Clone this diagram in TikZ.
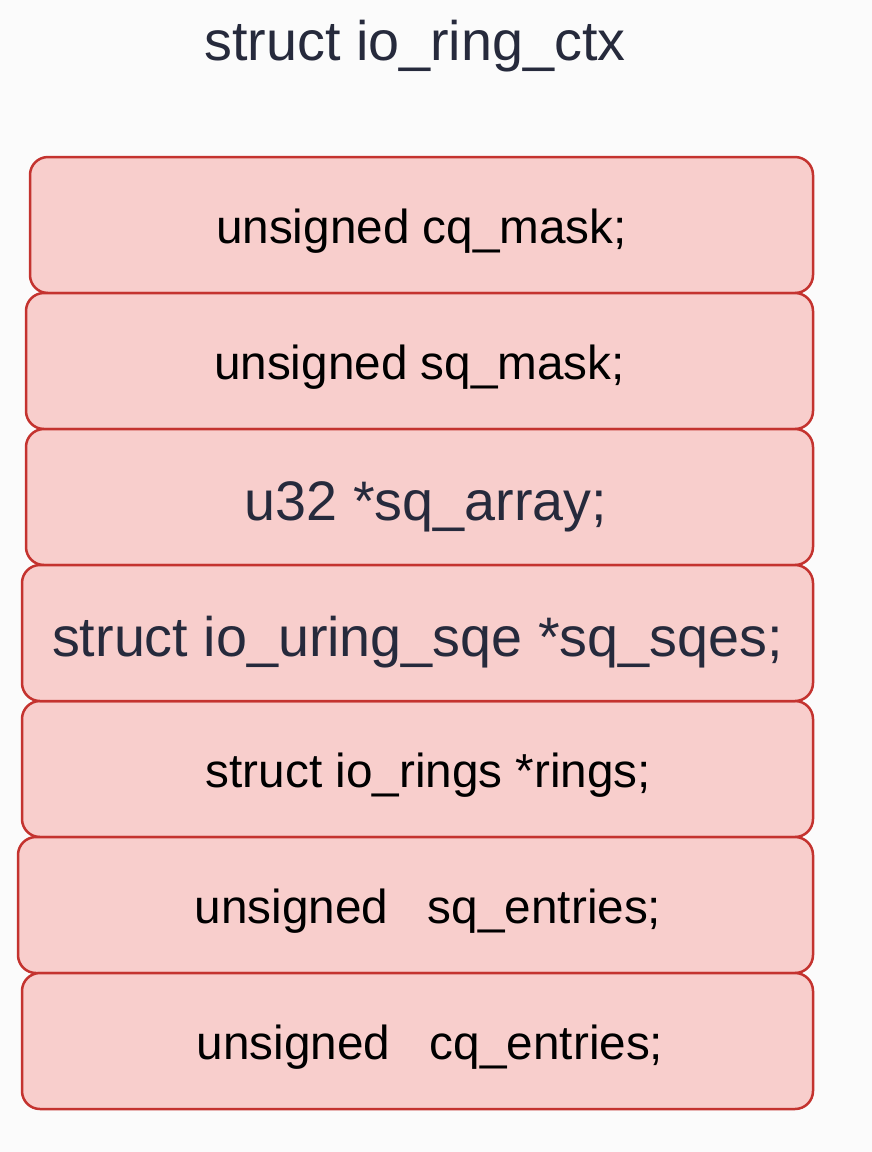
\documentclass[tikz,border=0pt]{standalone}
\usepackage{fontspec}
\setmainfont{Liberation Sans}
\usetikzlibrary{positioning}
\definecolor{pagebg}{HTML}{FBFBFB}
\definecolor{boxfill}{HTML}{F8CECC}
\definecolor{boxline}{HTML}{C4332F}
\definecolor{navytext}{HTML}{262A3C}
\tikzstyle{field}=[draw=boxline,fill=boxfill,line width=1.25pt,rounded corners=9pt,minimum height=68pt,inner sep=0pt,text depth=0pt]
\tikzstyle{small field}=[field,font=\fontsize{23.85}{28}\selectfont,text=black,text height=18pt]
\tikzstyle{big field}=[field,font=\fontsize{27.85}{33}\selectfont,text=navytext,text height=23pt]
\tikzstyle{title}=[font=\fontsize{27.85}{33}\selectfont,text=navytext,text height=23pt,text depth=0pt,inner sep=0pt]

\begin{document}
\begin{tikzpicture}[x=0.5pt,y=-0.5pt]
    \fill[pagebg] (0,0) rectangle (872,1152);
    % struct name on top
    \node[title] (ctx) at (415,37) {struct io\_ring\_ctx};
    % First the plain fields
    \foreach \x/\y/\boxw/\name/\txt in {421.5/225/783/cqmask/{unsigned cq\_mask;}, 419.5/361/787/sqmask/{unsigned sq\_mask;}, 417.5/769/791/rings/{\hspace*{11pt}struct io\_rings *rings;}, 415.5/905/795/sqentries/{\hspace*{12.5pt}unsigned\ \ \ sq\_entries;}, 417.5/1041/791/cqentries/{\hspace*{12.5pt}unsigned\ \ \ cq\_entries;}}
        \node[small field,minimum width=\boxw*0.5pt] (\name) at (\x,\y) {\txt};
    
    % Then the pointer fields
    \foreach \x/\y/\boxw/\name/\txt in {419.5/497/787/sqarray/{\hspace*{6.5pt}u32 *sq\_array;}, 417.5/633/791/sqsqes/{struct io\_uring\_sqe *sq\_sqes;}}
        \node[big field,minimum width=\boxw*0.5pt] (\name) at (\x,\y) {\txt};
        
\end{tikzpicture}
\end{document}
